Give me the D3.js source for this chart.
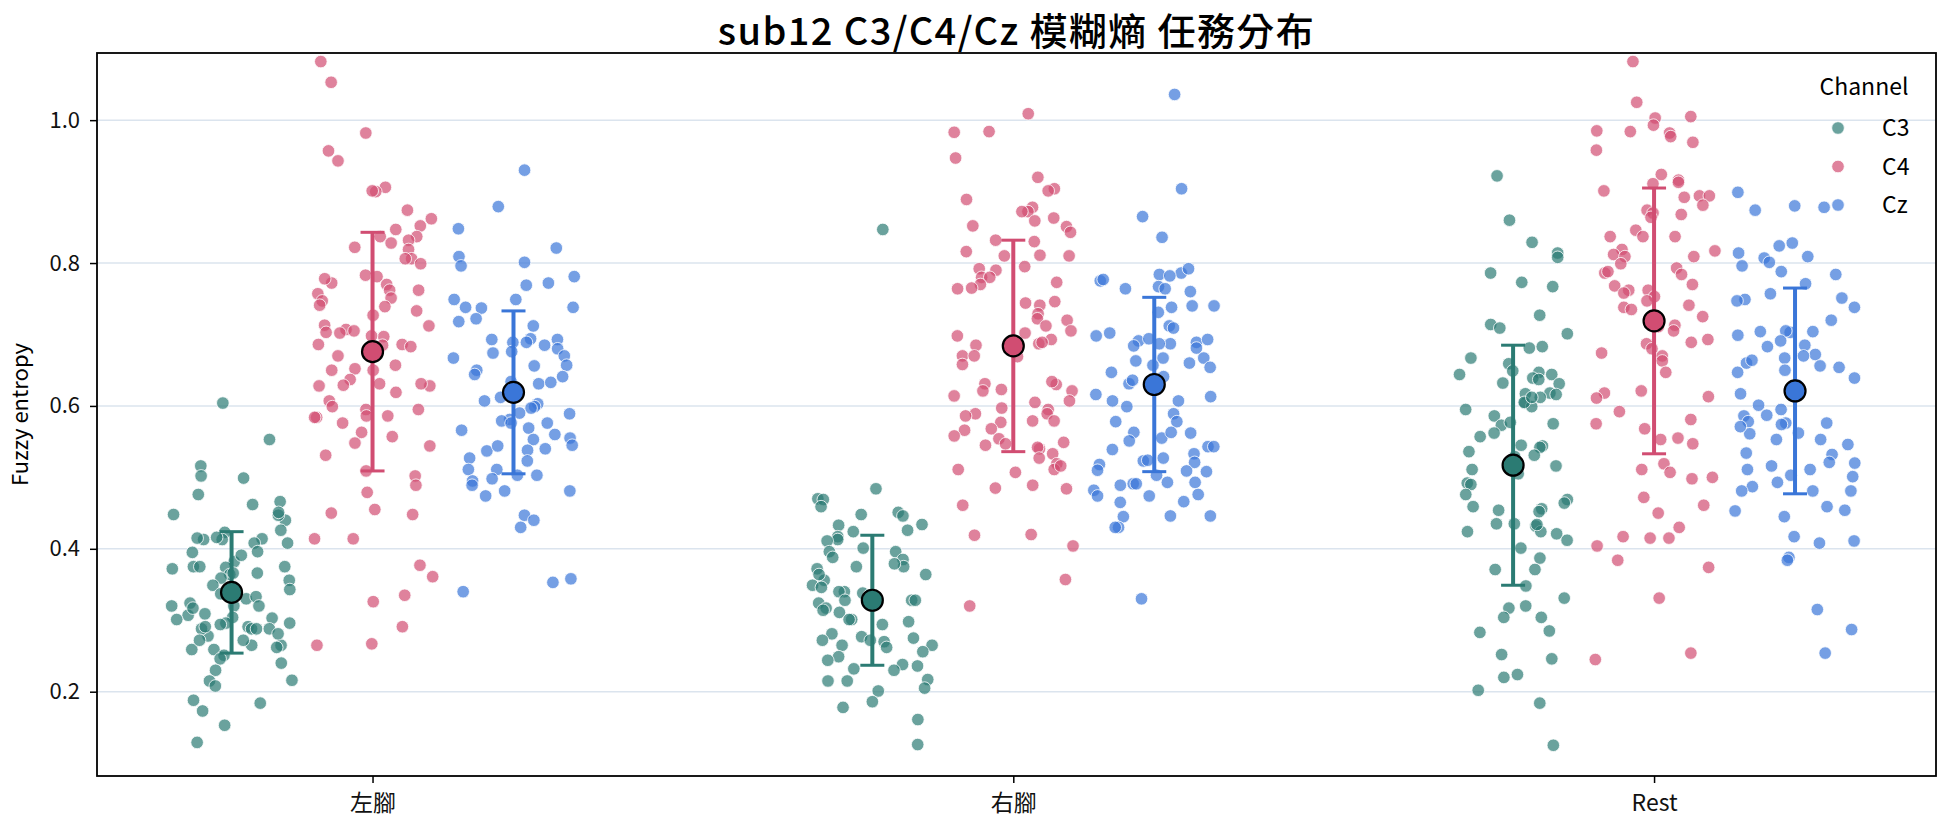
<!DOCTYPE html>
<html>
<head>
<meta charset="utf-8">
<script src="https://cdn.jsdelivr.net/npm/d3@7"></script>
<style>
  body { margin: 0; background: #fff; }
  text { font-family: "Noto Sans CJK TC", "Noto Sans", sans-serif; }
</style>
</head>
<body>
<svg id="chart"></svg>
<script>
const categories = ["左腳", "右腳", "Rest"];
const channels = ["C3", "C4", "Cz"];
const yTicks = [0.2, 0.4, 0.6, 0.8, 1.0];

// fuzzy entropy per epoch
const leftC3 = [0.604,0.553,0.516,0.499,0.502,0.476,0.466,0.462,0.448,0.440,0.447,0.451,0.426,0.413,0.415,0.423,0.413,0.414,0.416,0.408,0.408,0.395,0.396,0.375,0.382,0.372,0.375,0.375,0.374,0.364,0.366,0.359,0.356,0.343,0.330,0.324,0.333,0.320,0.320,0.307,0.304,0.296,0.296,0.309,0.294,0.291,0.301,0.288,0.278,0.288,0.288,0.303,0.288,0.291,0.265,0.259,0.251,0.259,0.246,0.240,0.265,0.262,0.230,0.215,0.208,0.216,0.188,0.173,0.184,0.153,0.129,0.391,0.366,0.349,0.337,0.337,0.320,0.317,0.272,0.272,0.281];
const leftC4 = [1.082,1.053,0.982,0.957,0.943,0.906,0.900,0.901,0.874,0.862,0.852,0.837,0.837,0.847,0.832,0.828,0.822,0.819,0.806,0.806,0.799,0.783,0.781,0.770,0.772,0.778,0.762,0.762,0.757,0.747,0.751,0.741,0.739,0.733,0.727,0.713,0.707,0.702,0.697,0.698,0.712,0.705,0.703,0.686,0.685,0.686,0.683,0.670,0.657,0.650,0.652,0.650,0.637,0.631,0.628,0.628,0.631,0.629,0.619,0.607,0.599,0.595,0.595,0.584,0.576,0.584,0.586,0.586,0.563,0.557,0.548,0.544,0.531,0.509,0.502,0.489,0.479,0.455,0.450,0.448,0.414,0.414,0.377,0.361,0.335,0.326,0.291,0.265,0.267];
const leftCz = [0.930,0.879,0.848,0.821,0.809,0.801,0.796,0.781,0.769,0.772,0.749,0.749,0.738,0.738,0.737,0.722,0.718,0.712,0.693,0.694,0.689,0.689,0.676,0.674,0.685,0.693,0.680,0.670,0.667,0.656,0.657,0.650,0.644,0.641,0.631,0.634,0.633,0.612,0.603,0.607,0.599,0.597,0.590,0.589,0.581,0.579,0.576,0.569,0.576,0.555,0.553,0.560,0.566,0.545,0.540,0.537,0.538,0.544,0.527,0.523,0.511,0.511,0.503,0.503,0.498,0.495,0.489,0.474,0.481,0.481,0.447,0.440,0.430,0.358,0.353,0.340];
const rightC3 = [0.847,0.484,0.470,0.469,0.451,0.448,0.459,0.446,0.433,0.434,0.426,0.424,0.417,0.413,0.411,0.401,0.396,0.396,0.388,0.385,0.375,0.375,0.379,0.372,0.364,0.356,0.364,0.349,0.346,0.338,0.340,0.335,0.328,0.340,0.328,0.328,0.324,0.317,0.314,0.311,0.301,0.301,0.294,0.298,0.281,0.272,0.277,0.272,0.270,0.275,0.265,0.256,0.262,0.265,0.249,0.244,0.238,0.236,0.232,0.230,0.217,0.215,0.215,0.205,0.201,0.186,0.178,0.161,0.126];
const rightC4 = [1.009,0.983,0.984,0.947,0.920,0.904,0.901,0.889,0.878,0.872,0.872,0.859,0.863,0.852,0.851,0.843,0.830,0.832,0.816,0.811,0.810,0.810,0.795,0.790,0.792,0.780,0.780,0.773,0.770,0.764,0.765,0.746,0.741,0.744,0.729,0.720,0.722,0.712,0.705,0.702,0.698,0.693,0.687,0.689,0.685,0.670,0.669,0.658,0.670,0.630,0.634,0.621,0.631,0.623,0.621,0.614,0.607,0.605,0.597,0.595,0.589,0.586,0.589,0.579,0.579,0.577,0.566,0.568,0.558,0.554,0.549,0.547,0.540,0.545,0.542,0.533,0.527,0.519,0.511,0.511,0.516,0.507,0.489,0.484,0.485,0.461,0.419,0.420,0.404,0.357,0.320];
const rightCz = [1.036,0.904,0.865,0.836,0.775,0.777,0.784,0.786,0.792,0.782,0.767,0.760,0.764,0.764,0.740,0.738,0.731,0.740,0.712,0.709,0.698,0.691,0.687,0.689,0.687,0.702,0.693,0.694,0.684,0.681,0.660,0.667,0.663,0.667,0.657,0.654,0.647,0.641,0.631,0.636,0.616,0.613,0.607,0.607,0.599,0.589,0.578,0.578,0.562,0.555,0.563,0.563,0.551,0.543,0.543,0.539,0.533,0.523,0.521,0.524,0.527,0.518,0.510,0.509,0.508,0.503,0.493,0.493,0.491,0.489,0.491,0.482,0.474,0.476,0.474,0.465,0.466,0.446,0.446,0.445,0.430,0.430,0.330];
const restC3 = [0.922,0.860,0.829,0.814,0.808,0.786,0.773,0.767,0.727,0.714,0.709,0.701,0.683,0.681,0.667,0.659,0.647,0.644,0.644,0.649,0.639,0.637,0.632,0.631,0.618,0.616,0.617,0.604,0.599,0.605,0.612,0.612,0.595,0.586,0.575,0.573,0.577,0.562,0.557,0.544,0.542,0.545,0.529,0.531,0.519,0.516,0.511,0.536,0.505,0.492,0.490,0.476,0.469,0.464,0.459,0.454,0.456,0.452,0.435,0.435,0.424,0.432,0.424,0.421,0.434,0.412,0.401,0.387,0.371,0.371,0.348,0.331,0.320,0.317,0.304,0.304,0.285,0.283,0.252,0.246,0.224,0.220,0.202,0.184,0.125];
const restC4 = [1.082,1.025,1.005,1.003,0.993,0.985,0.984,0.982,0.977,0.969,0.958,0.924,0.916,0.911,0.913,0.901,0.892,0.894,0.894,0.881,0.874,0.870,0.864,0.868,0.846,0.837,0.837,0.837,0.819,0.817,0.812,0.809,0.809,0.799,0.793,0.786,0.784,0.788,0.768,0.770,0.762,0.762,0.758,0.753,0.741,0.747,0.738,0.735,0.725,0.713,0.711,0.705,0.693,0.687,0.689,0.680,0.674,0.670,0.663,0.647,0.618,0.613,0.611,0.621,0.592,0.581,0.575,0.568,0.553,0.555,0.547,0.519,0.511,0.507,0.498,0.500,0.472,0.461,0.450,0.430,0.417,0.415,0.415,0.404,0.384,0.374,0.331,0.254,0.245];
const restCz = [0.899,0.874,0.880,0.878,0.828,0.824,0.809,0.807,0.814,0.788,0.796,0.801,0.784,0.771,0.749,0.747,0.757,0.751,0.738,0.720,0.703,0.699,0.704,0.704,0.705,0.683,0.685,0.691,0.672,0.670,0.667,0.660,0.664,0.656,0.654,0.647,0.650,0.639,0.629,0.617,0.601,0.595,0.586,0.576,0.578,0.587,0.576,0.574,0.562,0.561,0.571,0.553,0.553,0.546,0.534,0.532,0.521,0.520,0.516,0.511,0.511,0.503,0.501,0.493,0.487,0.481,0.481,0.481,0.454,0.459,0.445,0.453,0.417,0.408,0.411,0.388,0.384,0.315,0.287,0.254];

// mean and SD per category (左腳, 右腳, Rest)
const meanC3 = [0.339, 0.328, 0.517];
const sdC3 = [0.085, 0.091, 0.168];
const meanC4 = [0.676, 0.684, 0.719];
const sdC4 = [0.167, 0.148, 0.186];
const meanCz = [0.619, 0.630, 0.621];
const sdCz = [0.114, 0.122, 0.144];

const W = 1944, H = 827;
const margin = { top: 53, right: 8, bottom: 51, left: 97 };

const svg = d3.select("#chart").attr("width", W).attr("height", H);

const color = { C3: "#2b7b73", C4: "#d14d72", Cz: "#3a76d8" };
const raw = {
  C3: [leftC3, rightC3, restC3],
  C4: [leftC4, rightC4, restC4],
  Cz: [leftCz, rightCz, restCz]
};
const stats = {
  C3: { mean: meanC3, sd: sdC3 },
  C4: { mean: meanC4, sd: sdC4 },
  Cz: { mean: meanCz, sd: sdCz }
};

var x = d3.scaleLinear().domain([-0.43, 2.44]).range([margin.left, W - margin.right]);
var y = d3.scaleLinear().domain([0.082, 1.094]).range([H - margin.bottom, margin.top]);
var dodge = d3.scaleOrdinal().domain(channels).range([-0.22, 0, 0.22]);

// grid
svg.append("g").selectAll("line").data(yTicks).enter().append("line")
  .attr("x1", margin.left).attr("x2", W - margin.right)
  .attr("y1", d => y(d)).attr("y2", d => y(d))
  .attr("stroke", "#dbe4ee").attr("stroke-width", 1.5);

// jittered strips (seeded so it renders the same every time)
var rnd = d3.randomUniform.source(d3.randomLcg(0.4217))(-0.095, 0.095);
var pts = [];
channels.forEach(ch => {
  raw[ch].forEach((vals, ci) => {
    vals.forEach(v => pts.push({ ch: ch, ci: ci, v: v, j: rnd() }));
  });
});

svg.append("g").selectAll("circle").data(pts).enter().append("circle")
  .attr("cx", d => x(d.ci + dodge(d.ch) + d.j))
  .attr("cy", d => y(d.v))
  .attr("r", 6.3)
  .attr("fill", d => color[d.ch])
  .attr("fill-opacity", 0.7)
  .attr("stroke", "#fff")
  .attr("stroke-width", 0.8);

// error bars + means
var summ = [];
channels.forEach(ch => {
  categories.forEach((c, ci) => {
    summ.push({ ch: ch, ci: ci, m: stats[ch].mean[ci], s: stats[ch].sd[ci] });
  });
});

var eb = svg.append("g").selectAll("g").data(summ).enter().append("g");
eb.append("line")
  .attr("x1", d => x(d.ci + dodge(d.ch))).attr("x2", d => x(d.ci + dodge(d.ch)))
  .attr("y1", d => y(d.m - d.s)).attr("y2", d => y(d.m + d.s))
  .attr("stroke", d => color[d.ch]).attr("stroke-width", 4);
eb.selectAll(".cap").data(d => [{ d: d, v: d.m - d.s }, { d: d, v: d.m + d.s }]).enter().append("line")
  .attr("class", "cap")
  .attr("x1", e => x(e.d.ci + dodge(e.d.ch)) - 12).attr("x2", e => x(e.d.ci + dodge(e.d.ch)) + 12)
  .attr("y1", e => y(e.v)).attr("y2", e => y(e.v))
  .attr("stroke", e => color[e.d.ch]).attr("stroke-width", 3);
eb.append("circle")
  .attr("cx", d => x(d.ci + dodge(d.ch)))
  .attr("cy", d => y(d.m))
  .attr("r", 10.5)
  .attr("fill", d => color[d.ch])
  .attr("stroke", "#000").attr("stroke-width", 2.2);

// frame
svg.append("rect")
  .attr("x", margin.left).attr("y", margin.top)
  .attr("width", W - margin.left - margin.right).attr("height", H - margin.top - margin.bottom)
  .attr("fill", "none").attr("stroke", "#000").attr("stroke-width", 1.8);

// axes
var yAxis = d3.axisLeft(y).tickValues(yTicks).tickFormat(d3.format(".1f")).tickSizeInner(7).tickSizeOuter(0).tickPadding(10);
var gy = svg.append("g").attr("transform", `translate(${margin.left},0)`).call(yAxis);
gy.select(".domain").remove();
gy.selectAll("text").style("font-size", "22px").attr("fill", "#111");
gy.selectAll("line").attr("stroke", "#000").attr("stroke-width", 1.5);

var xAxis = d3.axisBottom(x).tickValues([0, 1, 2]).tickFormat(i => categories[i]).tickSizeInner(7).tickSizeOuter(0).tickPadding(12);
var gx = svg.append("g").attr("transform", `translate(0,${H - margin.bottom})`).call(xAxis);
gx.select(".domain").remove();
gx.selectAll("text").style("font-size", "23px").attr("fill", "#111");
gx.selectAll("line").attr("stroke", "#000").attr("stroke-width", 1.5);

// labels
svg.append("text")
  .attr("transform", `translate(28,${(margin.top + H - margin.bottom) / 2}) rotate(-90)`)
  .attr("text-anchor", "middle")
  .style("font-size", "22px")
  .text("Fuzzy entropy");

svg.append("text")
  .attr("x", (margin.left + W - margin.right) / 2).attr("y", 45)
  .attr("text-anchor", "middle")
  .style("font-size", "38px").style("font-weight", "500").style("letter-spacing", "1.4px")
  .text("sub12 C3/C4/Cz 模糊熵 任務分布");

// legend
var lg = svg.append("g");
lg.append("text").attr("x", 1864).attr("y", 95).attr("text-anchor", "middle")
  .style("font-size", "23px").text("Channel");
channels.forEach((ch, i) => {
  var cy = 128 + i * 38.5;
  lg.append("circle").attr("cx", 1838).attr("cy", cy).attr("r", 6.3)
    .attr("fill", color[ch]).attr("fill-opacity", 0.7).attr("stroke", "#fff").attr("stroke-width", 0.8);
  lg.append("text").attr("x", 1882).attr("y", cy + 8).style("font-size", "23px").text(ch);
});
</script>
</body>
</html>
